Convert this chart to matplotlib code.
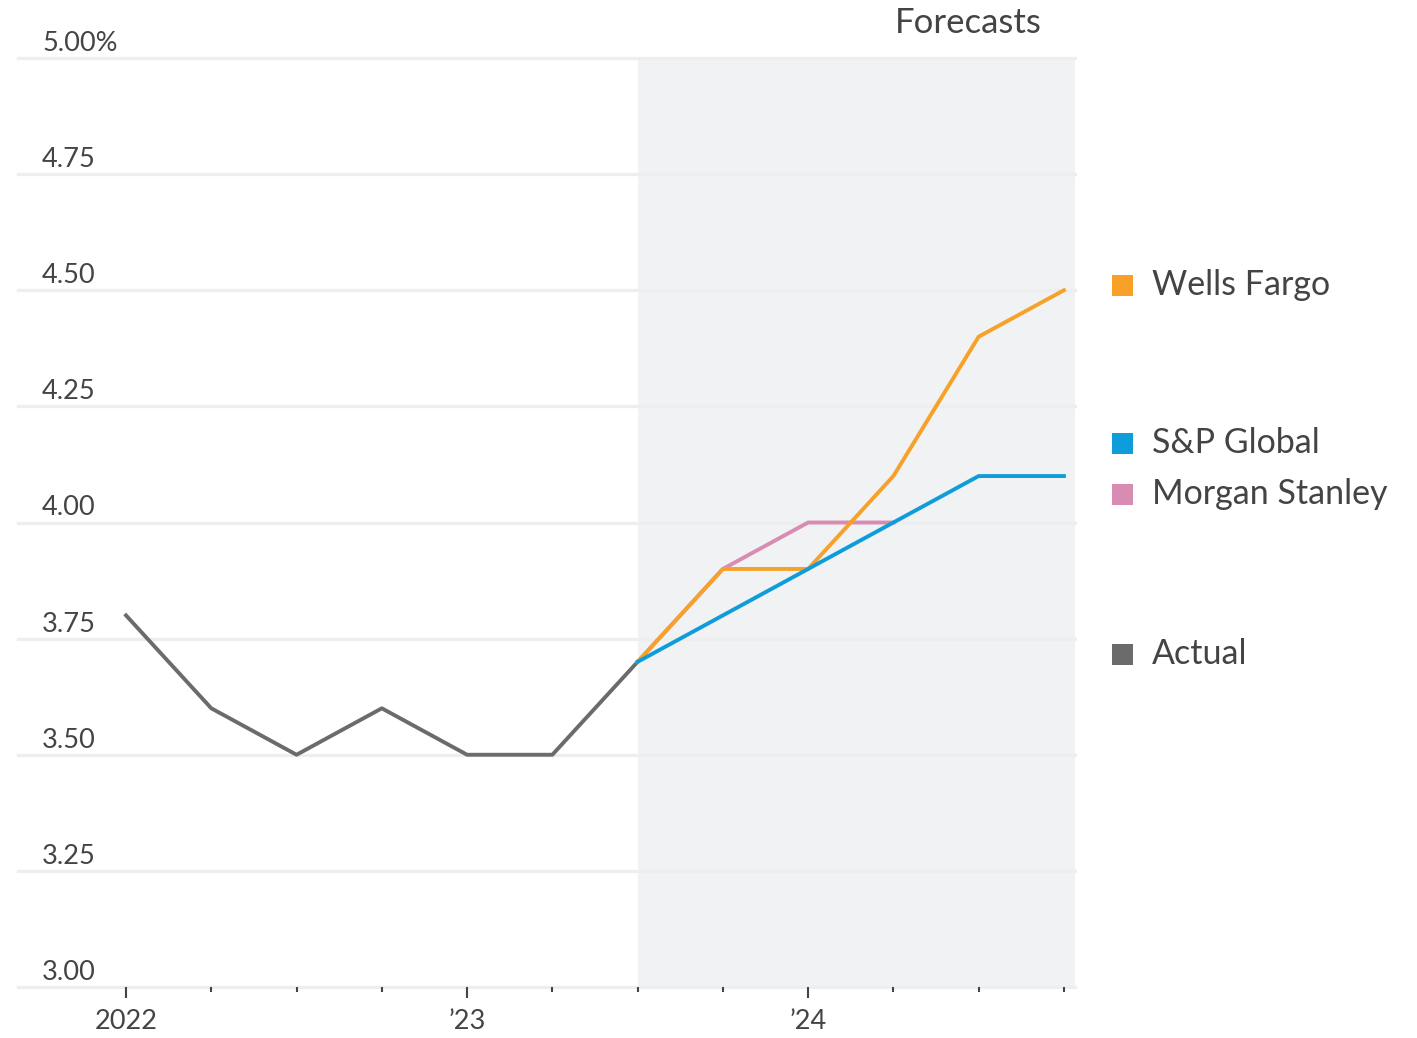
import matplotlib.pyplot as plt
from matplotlib.patches import Rectangle
from matplotlib.transforms import blended_transform_factory, offset_copy

plt.rcParams['font.family'] = ['Lato', 'DejaVu Sans']

# quarterly, 2022 Q1 .. 2024 Q4
quarters = ['2022 Q1', 'Q2', 'Q3', 'Q4', '2023 Q1', 'Q2', 'Q3', 'Q4',
            '2024 Q1', 'Q2', 'Q3', 'Q4']
year_labels = ['2022', '\u201923', '\u201924']

actual = [3.8, 3.6, 3.5, 3.6, 3.5, 3.5, 3.7]
morgan_stanley = [3.7, 3.9, 4.0, 4.0]
wells_fargo = [3.7, 3.9, 3.9, 4.1, 4.4, 4.5]
sp_global = [3.7, 3.8, 3.9, 4.0, 4.1, 4.1]

yticks = [3.00, 3.25, 3.50, 3.75, 4.00, 4.25, 4.50, 4.75, 5.00]

c_wf = '#f7a128'
c_sp = '#0f9cdb'
c_ms = '#d98cb1'
c_act = '#6b6b6b'
txt = '#444444'

fig = plt.figure(figsize=(14.17, 10.38), dpi=100)
ax = fig.add_axes([18 / 1417, 1 - 987 / 1038, (1075 - 18) / 1417, (987 - 58) / 1038])

start = len(actual) - 1
xa = list(range(len(actual)))
xf = lambda s: list(range(start, start + len(s)))

ax.set_xlim(-1.267, 11.13)
ax.set_ylim(3.0, 5.0)
ax.axvspan(start, 11.13, color='#f1f2f4', zorder=0, lw=0)

for v in yticks:
    ax.axhline(v, color='#eeeeee', lw=2.4, zorder=1, clip_on=False)

lw = 2.8
ax.plot(xa, actual, color=c_act, lw=lw, zorder=3)
ax.plot(xf(morgan_stanley), morgan_stanley, color=c_ms, lw=lw, zorder=3)
ax.plot(xf(wells_fargo), wells_fargo, color=c_wf, lw=lw, zorder=4)
ax.plot(xf(sp_global), sp_global, color=c_sp, lw=lw, zorder=5)

for s in ax.spines.values():
    s.set_visible(False)

ax.set_yticks([])
tr = offset_copy(blended_transform_factory(ax.transAxes, ax.transData), fig=fig, x=0, y=1.5, units='points')
for v in yticks:
    lab = f'{v:.2f}%' if v == yticks[-1] else f'{v:.2f}'
    ax.text(24 / 1057, v, lab, transform=tr, ha='left', va='bottom',
            fontsize=19.5, color=txt)

ax.set_xticks(range(0, len(quarters), 4))
ax.set_xticklabels(year_labels)
ax.set_xticks(range(len(quarters)), minor=True)
ax.tick_params(axis='x', which='major', length=8, width=1.5, color='#444444',
               pad=8, labelsize=19.5, labelcolor=txt)
ax.tick_params(axis='x', which='minor', length=3.5, width=1.5, color='#444444')

fig.text(1042 / 1417, 1 - 23 / 1038, 'Forecasts', ha='right', va='center',
         fontsize=25, color=txt)

legend = [('Wells Fargo', c_wf, 285), ('S&P Global', c_sp, 443),
          ('Morgan Stanley', c_ms, 494), ('Actual', c_act, 654)]
for name, col, yp in legend:
    fig.patches.append(Rectangle((1112 / 1417, 1 - (yp + 11) / 1038), 21 / 1417, 21 / 1038,
                                 transform=fig.transFigure, color=col, lw=0))
    fig.text(1152 / 1417, 1 - yp / 1038, name, ha='left', va='center',
             fontsize=24.5, color=txt)

fig.savefig('out.png', dpi=100, facecolor='white')
